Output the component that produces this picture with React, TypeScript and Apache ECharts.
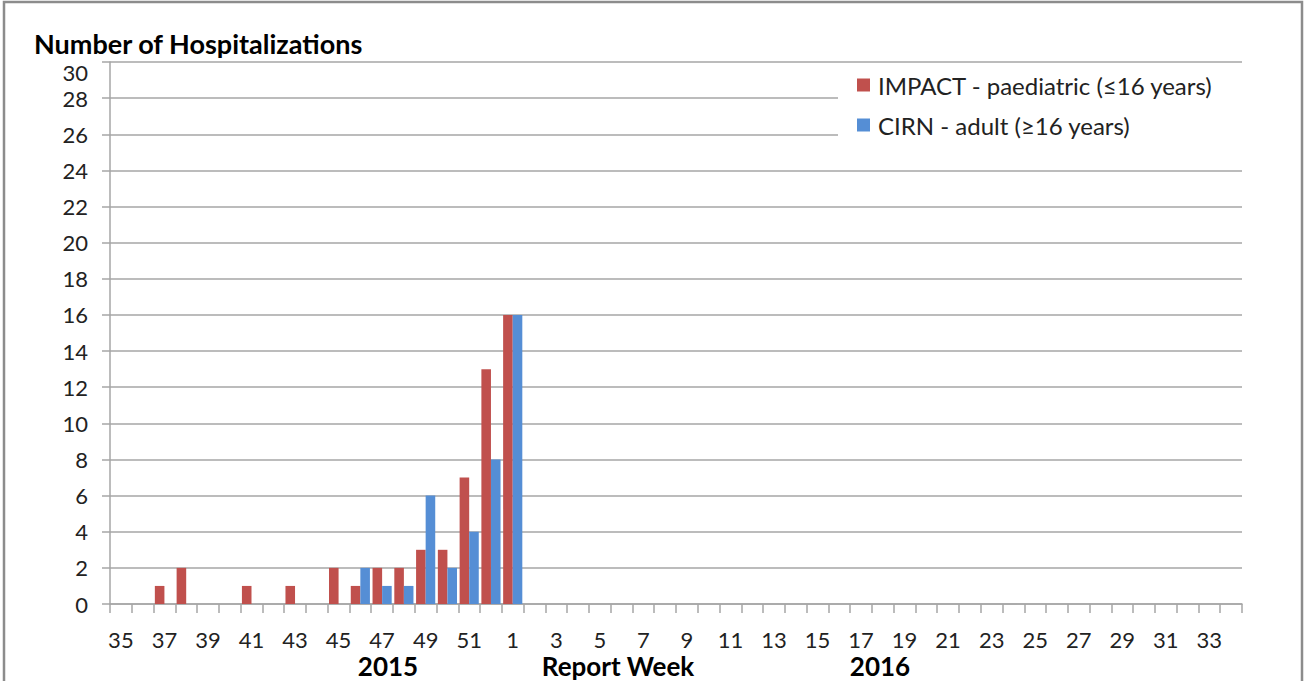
import React, { useEffect, useRef } from "react";
import * as echarts from "echarts";

const weeks: string[] = [
  "35","36","37","38","39","40","41","42","43","44","45","46","47","48","49","50","51","52",
  "1","2","3","4","5","6","7","8","9","10","11","12","13","14","15","16","17","18","19","20",
  "21","22","23","24","25","26","27","28","29","30","31","32","33","34",
];

// IMPACT - paediatric
const impact: number[] = [
  0,0,1,2,0,0,1,0,1,0,2,1,2,2,3,3,7,13,
  16,0,0,0,0,0,0,0,0,0,0,0,0,0,0,0,0,0,0,0,0,0,0,0,0,0,0,0,0,0,0,0,0,0,
];

// CIRN - adult
const cirn: number[] = [
  0,0,0,0,0,0,0,0,0,0,0,2,1,1,6,2,4,8,
  16,0,0,0,0,0,0,0,0,0,0,0,0,0,0,0,0,0,0,0,0,0,0,0,0,0,0,0,0,0,0,0,0,0,
];

const seriesNames = ["IMPACT - paediatric (\u226416 years)", "CIRN - adult (\u226516 years)"];
const yTicks = { min: 0, max: 30, interval: 2 };
const yearLabels = ["2015", "Report Week", "2016"];

const FONT = "Lato, 'Liberation Sans', sans-serif";
const GRID = "#a6a6a6";

export default function App() {
  const ref = useRef<HTMLDivElement>(null);
  useEffect(() => {
    if (!ref.current) return;
    const chart = echarts.init(ref.current, undefined, { renderer: "svg" });
    chart.setOption({
      animation: false,
      backgroundColor: "#ffffff",
      textStyle: { fontFamily: FONT },
      title: {
        text: "Number of Hospitalizations",
        left: 34,
        top: 30,
        padding: 0,
        textStyle: { fontFamily: FONT, fontSize: 27, lineHeight: 27, fontWeight: "bold", color: "#000" },
      },
      grid: { left: 110, right: 64, top: 62, bottom: 77, containLabel: false },
      legend: {
        orient: "vertical",
        left: 838,
        top: 64,
        width: 460,
        backgroundColor: "#ffffff",
        padding: [8, 80, 12, 19],
        itemWidth: 13,
        itemHeight: 13,
        itemGap: 14,
        itemStyle: { borderWidth: 0 },
        textStyle: { fontFamily: FONT, fontSize: 24, color: "#222", lineHeight: 26, padding: [0, 0, 0, 3] },
        icon: "rect",
        data: seriesNames,
      },
      xAxis: {
        type: "category",
        data: weeks,
        axisLine: { lineStyle: { color: GRID, width: 1.5 } },
        axisTick: { show: true, interval: 0, length: 9, lineStyle: { color: GRID, width: 1.5 } },
        axisLabel: { interval: 1, margin: 25, fontSize: 22, lineHeight: 20, color: "#222", fontFamily: FONT },
        splitLine: { show: false },
      },
      yAxis: {
        type: "value",
        min: yTicks.min,
        max: yTicks.max,
        interval: yTicks.interval,
        axisLine: { show: true, lineStyle: { color: GRID, width: 1.5 } },
        axisTick: { show: true, length: 8, lineStyle: { color: GRID, width: 1.5 } },
        axisLabel: {
          margin: 22,
          fontSize: 22,
          color: "#222",
          fontFamily: FONT,
          // the top label is drawn lower, below the title, as in the original
          formatter: (v: number) => (v === yTicks.max ? "" : String(v)),
        },
        splitLine: { show: true, lineStyle: { color: GRID, width: 1.5 } },
      },
      series: [
        {
          name: seriesNames[0],
          type: "bar",
          data: impact,
          barGap: "0%",
          barCategoryGap: "12%",
          itemStyle: { color: "#C0504D" },
        },
        {
          name: seriesNames[1],
          type: "bar",
          data: cirn,
          barGap: "0%",
          barCategoryGap: "12%",
          itemStyle: { color: "#558ED5" },
        },
      ],
      graphic: [
        {
          type: "rect",
          shape: { x: 4, y: 2, width: 1298, height: 720 },
          style: { fill: "none", stroke: "#8c8c8c", lineWidth: 2.5 },
          silent: true,
        },
        {
          type: "text",
          x: 88,
          y: 72,
          style: { text: String(yTicks.max), fontFamily: FONT, fontSize: 22, lineHeight: 18, fill: "#222", align: "right", verticalAlign: "middle" },
        },
        {
          type: "text",
          x: 388,
          y: 666,
          style: { text: yearLabels[0], fontFamily: FONT, fontSize: 26, lineHeight: 22, fontWeight: "bold", fill: "#000", align: "center", verticalAlign: "middle" },
        },
        {
          type: "text",
          x: 618,
          y: 666,
          style: { text: yearLabels[1], fontFamily: FONT, fontSize: 26, lineHeight: 22, fontWeight: "bold", fill: "#000", align: "center", verticalAlign: "middle" },
        },
        {
          type: "text",
          x: 880,
          y: 666,
          style: { text: yearLabels[2], fontFamily: FONT, fontSize: 26, lineHeight: 22, fontWeight: "bold", fill: "#000", align: "center", verticalAlign: "middle" },
        },
      ],
    });
    return () => chart.dispose();
  }, []);
  return (
    <div
      ref={ref}
      style={{ position: "absolute", left: 0, top: 0, width: 1306, height: 681 }}
    />
  );
}
